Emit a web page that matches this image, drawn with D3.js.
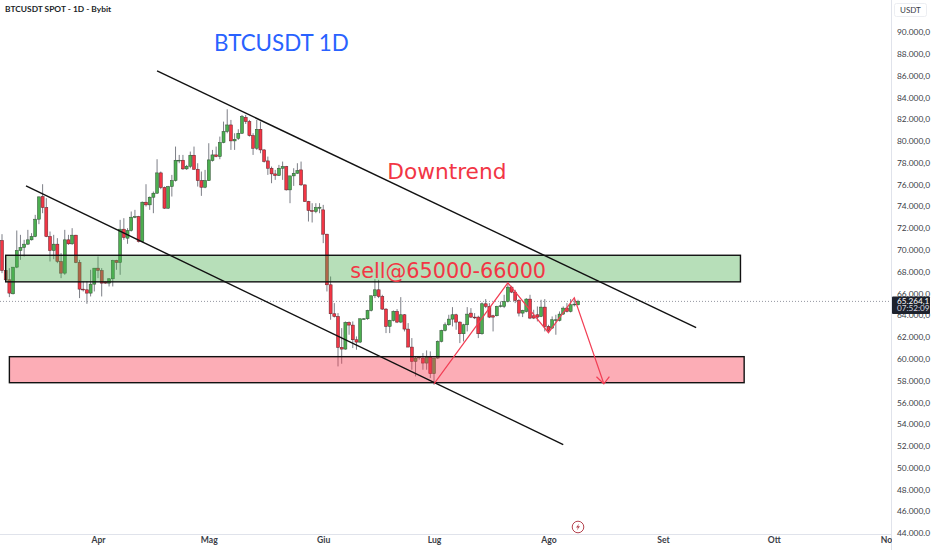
<!DOCTYPE html>
<html><head><meta charset="utf-8">
<script src="https://cdn.jsdelivr.net/npm/d3@7/dist/d3.min.js"></script>
<style>html,body{margin:0;padding:0;background:#fff;overflow:hidden}svg{display:block}</style>
</head><body><svg id="c" width="932" height="550"></svg>
<script>
const startDay = "2024-03-06";
const opens = [70856,68104,67248,65963,68410,69939,70214,70520,70917,71223,
72813,74893,73884,71223,69939,70520,68930,67859,70917,70550,
71346,68838,66391,66330,66025,66850,68318,68104,67034,66942,
67340,69022,68838,71896,71070,71774,72997,73058,70765,74373,
74128,74832,75199,77064,75718,73822,75810,76361,78196,78226,
77431,77676,78685,77400,76361,75749,76361,78196,78715,78562,
79847,80856,81467,80000,80244,80703,82171,81773,80489,79327,
81070,79174,78165,77492,76972,76819,77492,77645,75504,76789,
77033,77339,75963,74434,73608,73517,73822,73670,71437,66789,
64128,63884,61040,60887,63333,63089,61743,61529,63639,63670,
64434,65780,66330,65719,64557,62966,63517,64343,63364,64037,
62723,61070,59755,60123,60061,59602,60214,58624,60061,61590,
62600,63119,63639,64037,63364,62293,63119,64190,63823,63823,
62294,65046,64802,63946,63946,64802,64802,65261,66575,66117,
65352,64190,64343,65475,63946,64037,63884,64741,62967,62814,
63548,63517,64098,64649,64343,64955,64955];
const highs = [71437,68165,68318,68410,71774,71376,70917,71835,71529,73211,
74893,76024,74740,71682,71376,71070,69694,71835,71376,71987,
71376,69083,67095,67095,68165,68318,69388,68318,67095,67400,
69083,69083,72752,72905,71987,73517,73670,73119,74434,76024,
74893,75351,78318,77186,75810,75871,76880,79480,78715,78715,
77798,79021,79480,77951,77186,77339,79786,79174,79480,80397,
81773,82905,81926,80703,81070,82385,82385,81926,80703,81926,
81773,79235,78562,77645,77339,77798,78104,77706,76789,77492,
77951,78104,75994,74495,74281,74281,74281,74128,71468,67553,
65107,64190,62813,63425,63425,63425,62049,63670,63731,64495,
65780,67309,67248,65872,64648,63578,64434,64557,65657,64098,
63272,61896,60214,60214,60520,60765,60673,60061,61682,62661,
63333,64037,64740,64128,63425,63211,64740,64649,64190,63946,
65169,65475,65108,64037,64863,65261,65872,66942,66698,66331,
65475,64496,65566,65872,64496,64802,65413,65475,63120,63884,
64037,64343,64802,65108,65475,65566,65413];
const lows = [67859,67095,65658,65902,68318,69083,69388,70459,70856,71162,
72355,73364,71162,68930,69144,68777,67400,67707,70459,70459,
68777,65566,66177,65046,65719,66177,67400,65719,66881,66636,
66636,68165,67707,70917,70550,71682,72905,70673,70673,73975,
73670,73364,75137,75565,73761,73761,74893,76269,77951,77339,
77339,77492,77339,75810,74954,75657,76330,78104,78501,78318,
79786,80703,79174,79174,80091,80642,81559,80397,78715,79174,
78868,78012,76880,76116,76422,76789,76422,75443,74281,75871,
76972,75871,74404,72599,72508,73364,73364,70612,66177,63578,
63792,59297,59541,60826,62202,60979,60826,61437,63609,63578,
64343,65566,65566,64495,62355,62355,63425,63272,63272,62508,
61070,58991,58379,59908,58991,58991,58226,57615,59969,61499,
62508,63027,62966,62661,61437,61590,62508,63732,63640,61897,
62203,64649,63732,62508,63884,64710,64649,65169,66025,65108,
63884,63823,64251,63640,63640,63426,63823,62508,62355,62753,
62203,63426,64037,64251,64251,64802,64894];
const closes = [68104,67248,66025,68410,69939,70214,70520,70917,71223,72813,
74862,73884,71223,69939,70520,68930,67859,70917,70550,71346,
68838,66391,66330,66025,66850,68318,68104,66942,66942,67340,
69022,68838,71896,71131,71774,72997,73058,70765,74373,74128,
74832,75199,77064,75718,73822,75810,76361,78226,78226,77431,
77676,78685,77400,76361,75749,76361,78257,78715,78562,79847,
80856,81467,80000,80153,80703,82232,81773,80489,79327,81070,
79174,78104,77492,76972,76819,77492,77645,75504,76789,77033,
77278,75963,74434,73608,73517,73884,73914,71437,66789,64128,
63884,61040,60887,63333,63089,61743,61529,63670,63670,64434,
65780,66330,65719,64557,62966,63517,64343,63364,64037,62723,
61070,59755,60061,60153,59602,60214,58624,60061,61590,62600,
63119,63639,64037,63364,62293,63119,64098,63823,63793,62294,
65046,64802,63823,63823,64802,64863,65261,66575,66117,65352,
64190,64435,65475,63732,63732,63823,64741,62967,62600,63579,
63579,64098,64649,64343,64955,65016,65264];

const priceTicks = [44000,46000,48000,50000,52000,54000,56000,58000,60000,62000,64000,66000,68000,70000,72000,74000,76000,78000,80000,82000,84000,86000,88000,90000];
const monthDays = ["2024-04-01","2024-05-01","2024-06-01","2024-07-01","2024-08-01","2024-09-01","2024-10-01","2024-11-01"];
const monthLabels = ["Apr","Mag","Giu","Lug","Ago","Set","Ott","Nov"];

const lastPrice = 65264.1;
const countdown = "07:52:09";

// Drawing anchors in chart terms: [day, price]
const upperTrend = [["2024-04-17",86420],["2024-09-10",62850]];
const lowerTrend = [["2024-03-12T12:00Z",75870],["2024-08-05",52110]];
const greenZone = [["2024-03-07",69500],["2024-09-22",67060]];
const redZone = [["2024-03-08",60190],["2024-09-23",57800]];
const zigzag = [["2024-07-01",57700],["2024-07-21",66970],["2024-08-01",62390],["2024-08-08",65600],["2024-08-16",57700]];
const arrowHead = [["2024-08-14",58350],["2024-08-16",57700],["2024-08-17T12:00Z",58350]];
const labels = [
 {t:"BTCUSDT 1D", d:"2024-05-02T10:00Z", p:88250, c:"#2962ff", s:22.4, f:"Lato"},
 {t:"Downtrend", d:"2024-06-18T08:00Z", p:76500, c:"#f23645", s:21.7, f:"'DejaVu Sans'"},
 {t:"sell@65000-66000", d:"2024-06-08T08:00Z", p:67420, c:"#f23645", s:20.8, f:"'DejaVu Sans'"}
];

const W = 891, H = 534;
const svg = d3.select("#c");
const t = s => new Date(s.length > 10 ? s : s + "T00:00:00Z");
const x = d3.scaleUtc().domain([t(startDay), d3.utcDay.offset(t(startDay), 156)]).range([2, 578]);
const y = d3.scaleLinear().domain([44000, 90000]).range([533, 32]);
const candles = opens.map((o,i) => ({o, h:highs[i], l:lows[i], c:closes[i], d:d3.utcDay.offset(t(startDay), i)}));

svg.append("defs").append("clipPath").attr("id","plot").append("rect").attr("width",W).attr("height",H);

const UP="#4caf50", DOWN="#f23645";
const plot = svg.append("g").attr("clip-path","url(#plot)");

plot.append("line").attr("x1",0).attr("x2",W).attr("y1",y(lastPrice)).attr("y2",y(lastPrice))
  .attr("stroke","#9598a1").attr("stroke-width",1).attr("stroke-dasharray","1 2");

plot.append("g").selectAll("line").data(candles).join("line")
  .attr("x1",d=>x(d.d)).attr("x2",d=>x(d.d)).attr("y1",d=>y(d.h)).attr("y2",d=>y(d.l))
  .attr("stroke","#7d7f87").attr("stroke-width",1);
plot.append("g").selectAll("rect").data(candles).join("rect")
  .attr("x",d=>x(d.d)-1.5).attr("width",3)
  .attr("y",d=>y(Math.max(d.o,d.c)))
  .attr("height",d=>Math.max(0.8,Math.abs(y(d.o)-y(d.c))))
  .attr("fill",d=>d.c>=d.o?UP:DOWN)
  .attr("stroke",d=>d.c>=d.o?"#2c4a30":"#5a2028").attr("stroke-width",0.5);

const zone = (a,fill) => plot.append("rect")
  .attr("x",x(t(a[0][0]))).attr("y",y(a[0][1]))
  .attr("width",x(t(a[1][0]))-x(t(a[0][0]))).attr("height",y(a[1][1])-y(a[0][1]))
  .attr("fill",fill).attr("stroke","#111").attr("stroke-width",1.4);
zone(greenZone,"rgba(76,175,80,0.4)");
zone(redZone,"rgba(247,60,80,0.42)");

const line = d3.line().x(d=>x(t(d[0]))).y(d=>y(d[1]));
[upperTrend,lowerTrend].forEach(a=>plot.append("path").attr("d",line(a)).attr("fill","none").attr("stroke","#111").attr("stroke-width",1.4));
[zigzag,arrowHead].forEach(a=>plot.append("path").attr("d",line(a)).attr("fill","none").attr("stroke","#f23f55").attr("stroke-width",1.2));

plot.selectAll("text.lbl").data(labels).join("text").attr("class","lbl")
  .attr("x",d=>x(t(d.d))).attr("y",d=>y(d.p)).attr("fill",d=>d.c)
  .attr("font-family",d=>d.f).attr("font-size",d=>d.s).text(d=>d.t);

const mark = plot.append("g").attr("transform",`translate(${x(t("2024-08-09"))},527)`);
mark.append("circle").attr("r",5.8).attr("fill","#fff").attr("stroke","#b5434f").attr("stroke-width",1);
mark.append("path").attr("d",d3.line()([[1.2,-3.6],[-2,0.5],[0,0.5],[-1.2,3.6],[2,-0.7],[0,-0.7]])).attr("fill","#b5434f");

svg.append("line").attr("x1",W+.5).attr("x2",W+.5).attr("y1",0).attr("y2",550).attr("stroke","#e0e3eb");
svg.append("line").attr("x1",0).attr("x2",W).attr("y1",H+.5).attr("y2",H+.5).attr("stroke","#e0e3eb");

const fmt = d3.formatLocale({decimal:",",thousands:".",grouping:[3],currency:["",""]}).format(",.1f");
const pax = svg.append("g").attr("transform",`translate(${W},0)`)
  .call(d3.axisRight(y).tickValues(priceTicks).tickFormat(fmt).tickSize(0).tickPadding(6));
pax.select(".domain").remove();
pax.selectAll("text").attr("font-family","Lato").attr("font-size",8.4).attr("fill","#3a3d46");

const tax = svg.append("g").attr("transform",`translate(0,${H})`)
  .call(d3.axisBottom(x).tickValues(monthDays.map(t)).tickFormat((d,i)=>monthLabels[i]).tickSize(0).tickPadding(3));
tax.select(".domain").remove();
tax.selectAll("text").attr("font-family","Lato").attr("font-weight",700).attr("font-size",8.6).attr("fill","#3a3d46");

// price panel masks whatever runs under its lower part
svg.append("rect").attr("x",892).attr("y",536).attr("width",40).attr("height",14).attr("fill","#fff");

svg.append("text").attr("x",5).attr("y",11.5).attr("font-family","Lato").attr("font-weight",700).attr("font-size",8.4).attr("fill","#1c1f28").text("BTCUSDT SPOT - 1D - Bybit");

svg.append("rect").attr("x",894.5).attr("y",3.5).attr("width",32).attr("height",13).attr("rx",2).attr("fill","#fff").attr("stroke","#eceef2");
svg.append("text").attr("x",900).attr("y",12.5).attr("font-family","Lato").attr("font-size",8).attr("fill","#3a3d46").text("USDT");

svg.append("rect").attr("x",892).attr("y",y(lastPrice)-5).attr("width",38).attr("height",17.5).attr("rx",1).attr("fill","#1e222d");
svg.append("text").attr("x",897).attr("y",y(lastPrice)+2.5).attr("font-family","Lato").attr("font-size",8.2).attr("fill","#fff").text(fmt(lastPrice));
svg.append("text").attr("x",897).attr("y",y(lastPrice)+10).attr("font-family","Lato").attr("font-size",8.2).attr("fill","#d8dae0").text(countdown);
</script></body></html>
